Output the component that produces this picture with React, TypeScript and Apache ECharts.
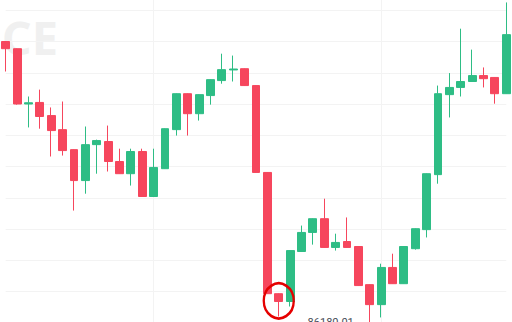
import React, { useEffect, useRef } from "react";
import * as echarts from "echarts";

const categories = [
  "08:00", "08:15", "08:30", "08:45", "09:00", "09:15", "09:30", "09:45", "10:00",
  "10:15", "10:30", "10:45", "11:00", "11:15", "11:30", "11:45", "12:00", "12:15",
  "12:30", "12:45", "13:00", "13:15", "13:30", "13:45", "14:00", "14:15", "14:30",
  "14:45", "15:00", "15:15", "15:30", "15:45", "16:00", "16:15", "16:30", "16:45",
  "17:00", "17:15", "17:30", "17:45", "18:00", "18:15", "18:30", "18:45", "19:00",
];

const opens = [
  87100, 87077, 86900, 86905, 86863, 86818, 86754, 86655, 86770, 86780, 86716, 86677,
  86748, 86604, 86693, 86818, 86933, 86869, 86927, 86975, 87009, 87013, 86959, 86681,
  86293, 86268, 86428, 86489, 86533, 86441, 86460, 86444, 86322, 86258, 86377, 86325,
  86437, 86498, 86674, 86930, 86953, 86972, 86991, 86985, 86933,
];
const closes = [
  87077, 86900, 86904, 86860, 86815, 86751, 86655, 86770, 86783, 86716, 86677, 86748,
  86604, 86697, 86821, 86933, 86869, 86930, 86978, 87010, 87012, 86959, 86681, 86293,
  86268, 86431, 86489, 86533, 86441, 86457, 86441, 86319, 86258, 86377, 86325, 86444,
  86501, 86677, 86933, 86953, 86972, 86991, 86981, 86933, 87122,
];
const lows = [
  87004, 86898, 86825, 86821, 86732, 86735, 86559, 86613, 86677, 86684, 86676, 86639,
  86603, 86603, 86692, 86799, 86799, 86847, 86898, 86965, 86972, 86958, 86680, 86292,
  86220, 86252, 86427, 86450, 86440, 86431, 86440, 86318, 86180.01, 86217, 86324, 86324,
  86434, 86473, 86645, 86857, 86924, 86971, 86953, 86901, 86932,
];
const highs = [
  87101, 87078, 86924, 86946, 86889, 86908, 86755, 86828, 86786, 86831, 86757, 86757,
  86757, 86757, 86822, 86934, 86934, 86931, 86979, 87061, 87055, 87014, 86960, 86682,
  86294, 86432, 86511, 86534, 86597, 86485, 86537, 86445, 86323, 86389, 86421, 86445,
  86502, 86678, 86959, 86999, 87141, 87074, 87017, 86986, 87225,
];

const lowLabel = "86180.01";
const lowIndex = 32;
const circledIndex = 24;
const circledValue = 86270;

const UP = "#2ebd85";
const DOWN = "#f6465d";
const GRID = "#f3f3f3";
const SHIFT = 20.55;

export default function App() {
  const ref = useRef<HTMLDivElement>(null);

  useEffect(() => {
    if (!ref.current) return;
    const chart = echarts.init(ref.current, undefined, { renderer: "svg" });
    const data = categories.map((_, i) => [opens[i], closes[i], lows[i], highs[i]]);

    chart.setOption({
      animation: false,
      backgroundColor: "#ffffff",
      grid: { left: 5.69, right: 5.69, top: 0, bottom: 0 },
      xAxis: {
        type: "category",
        data: categories,
        boundaryGap: false,
        axisLine: { show: false },
        axisTick: { show: false },
        axisLabel: { show: false },
        splitLine: {
          show: true,
          interval: (i: number) => i === 13 || i === 33,
          lineStyle: { color: GRID, width: 1 },
        },
      },
      yAxis: {
        type: "value",
        min: 86100,
        max: 87300,
        interval: 100,
        axisLine: { show: false },
        axisTick: { show: false },
        axisLabel: { show: false },
        splitLine: { show: true, lineStyle: { color: GRID, width: 1 } },
      },
      graphic: [
        {
          type: "text",
          z: -10,
          silent: true,
          x: 58,
          y: 37 + SHIFT,
          style: {
            text: "CE",
            textAlign: "right",
            textVerticalAlign: "middle",
            font: 'bold 47px "Open Sans"',
            fill: "#f0f0f0",
          },
        },
      ],
      series: [
        {
          type: "candlestick",
          data,
          barWidth: 8.4,
          clip: false,
          itemStyle: {
            color: UP,
            color0: DOWN,
            borderColor: UP,
            borderColor0: DOWN,
            borderWidth: 1,
          },
          markPoint: {
            silent: true,
            data: [
              {
                coord: [categories[circledIndex], circledValue],
                symbol: "circle",
                symbolSize: [30, 35],
                itemStyle: { color: "rgba(0,0,0,0)", borderColor: "#e50000", borderWidth: 2.5 },
                label: { show: false },
              },
              {
                coord: [categories[lowIndex], lows[lowIndex]],
                symbol: "circle",
                symbolSize: 0,
                itemStyle: { color: "rgba(0,0,0,0)" },
                label: {
                  show: true,
                  position: "left",
                  distance: 16,
                  offset: [0, -6],
                  formatter: lowLabel,
                  color: "#474d57",
                  fontSize: 11,
                  fontFamily: "Roboto",
                },
              },
            ],
          },
        },
      ],
    });
    return () => chart.dispose();
  }, []);

  return (
    <div style={{ position: "fixed", left: 0, top: 0, width: 512, height: 322, overflow: "hidden", background: "#fff" }}>
      <div
        ref={ref}
        style={{ position: "absolute", left: 0, top: -SHIFT, width: 512, height: 375 }}
      />
    </div>
  );
}
